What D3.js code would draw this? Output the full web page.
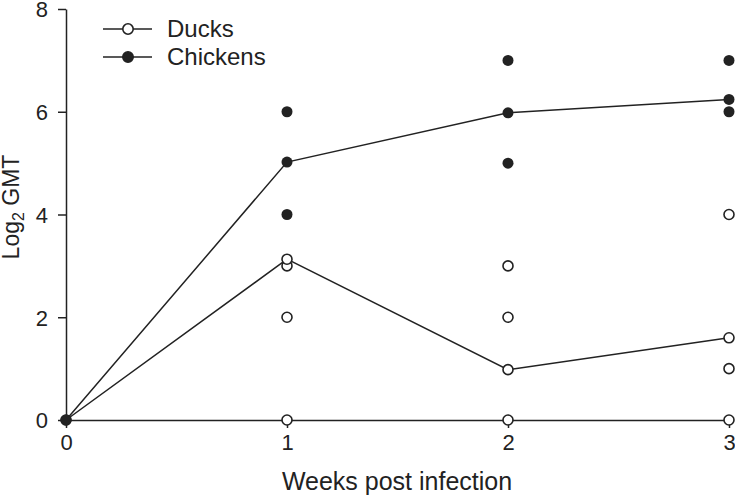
<!DOCTYPE html>
<html>
  <head>
    <meta charset="utf-8" />
    <script src="https://d3js.org/d3.v7.min.js"></script>
    <style>
      body { margin: 0; background: #fff; }
      svg { display: block; font-family: "Liberation Sans", Arial, sans-serif; }
    </style>
  </head>
  <body>
    <svg></svg>
    <script>
      // data
      var weeks = [0, 1, 2, 3];
      var duckMean = [0, 3.13, 0.98, 1.6];
      var chickenMean = [0, 5.02, 5.98, 6.24];
      // individual birds: [week, log2 titer]
      var duckPoints = [[1, 3], [1, 2], [1, 0], [2, 3], [2, 2], [2, 0], [3, 4], [3, 1], [3, 0]];
      var chickenPoints = [[1, 6], [1, 4], [2, 7], [2, 5], [3, 7], [3, 6]];
      var xTicks = [0, 1, 2, 3];
      var yTicks = [0, 2, 4, 6, 8];

      var ink = "#222";
      var svg = d3.select("svg").attr("width", 735).attr("height", 500);

      var x = d3.scaleLinear().domain([0, 3]).range([66, 729]);
      var y = d3.scaleLinear().domain([0, 8]).range([420, 9]);

      // axes
      var gx = svg.append("g")
        .attr("transform", "translate(0,420)")
        .call(d3.axisBottom(x).tickValues(xTicks).tickFormat(d3.format("d")).tickSize(8).tickSizeOuter(0).tickPadding(6));
      var gy = svg.append("g")
        .attr("transform", "translate(66,0)")
        .call(d3.axisLeft(y).tickValues(yTicks).tickFormat(d3.format("d")).tickSize(8).tickSizeOuter(0).tickPadding(10));
      [gx, gy].forEach(function (g) {
        g.selectAll("path, line").attr("stroke", ink).attr("stroke-width", 1.5);
        g.selectAll("text").attr("fill", ink).attr("font-size", 22).attr("font-family", null);
      });
      gy.selectAll("text").attr("dy", "0.36em");

      // axis titles
      svg.append("text")
        .attr("x", 397).attr("y", 490)
        .attr("text-anchor", "middle")
        .attr("font-size", 25)
        .attr("fill", ink)
        .text("Weeks post infection");

      var yl = svg.append("text")
        .attr("transform", "translate(19,207) rotate(-90)")
        .attr("text-anchor", "middle")
        .attr("font-size", 23)
        .attr("fill", ink);
      yl.append("tspan").text("Log");
      yl.append("tspan").attr("font-size", 16).attr("dy", 5).text("2");
      yl.append("tspan").attr("dy", -5).text(" GMT");

      var line = d3.line()
        .x(function (d, i) { return x(weeks[i]); })
        .y(function (d) { return y(d); });

      // mean lines
      svg.append("path").attr("d", line(duckMean))
        .attr("fill", "none").attr("stroke", ink).attr("stroke-width", 1.5);
      svg.append("path").attr("d", line(chickenMean))
        .attr("fill", "none").attr("stroke", ink).attr("stroke-width", 1.5);

      // ducks: open circles
      svg.selectAll(".duck")
        .data(duckPoints.concat(weeks.map(function (w, i) { return [w, duckMean[i]]; })))
        .enter().append("circle")
        .attr("class", "duck")
        .attr("cx", function (d) { return x(d[0]); })
        .attr("cy", function (d) { return y(d[1]); })
        .attr("r", 5)
        .attr("fill", "#fff")
        .attr("stroke", ink)
        .attr("stroke-width", 1.6);

      // chickens: filled circles
      svg.selectAll(".chicken")
        .data(chickenPoints.concat(weeks.map(function (w, i) { return [w, chickenMean[i]]; })))
        .enter().append("circle")
        .attr("class", "chicken")
        .attr("cx", function (d) { return x(d[0]); })
        .attr("cy", function (d) { return y(d[1]); })
        .attr("r", 5.5)
        .attr("fill", ink);

      // legend
      var legend = [
        { name: "Ducks", fill: "#fff", y: 29 },
        { name: "Chickens", fill: ink, y: 57 }
      ];
      var lg = svg.selectAll(".legend").data(legend).enter().append("g")
        .attr("transform", function (d) { return "translate(0," + d.y + ")"; });
      lg.append("line").attr("x1", 103).attr("x2", 152)
        .attr("stroke", ink).attr("stroke-width", 1.5);
      lg.append("circle").attr("cx", 128).attr("r", 5.2)
        .attr("fill", function (d) { return d.fill; })
        .attr("stroke", ink).attr("stroke-width", 1.6);
      lg.append("text").attr("x", 167).attr("y", 8)
        .attr("font-size", 24).attr("fill", ink)
        .text(function (d) { return d.name; });
    </script>
  </body>
</html>
